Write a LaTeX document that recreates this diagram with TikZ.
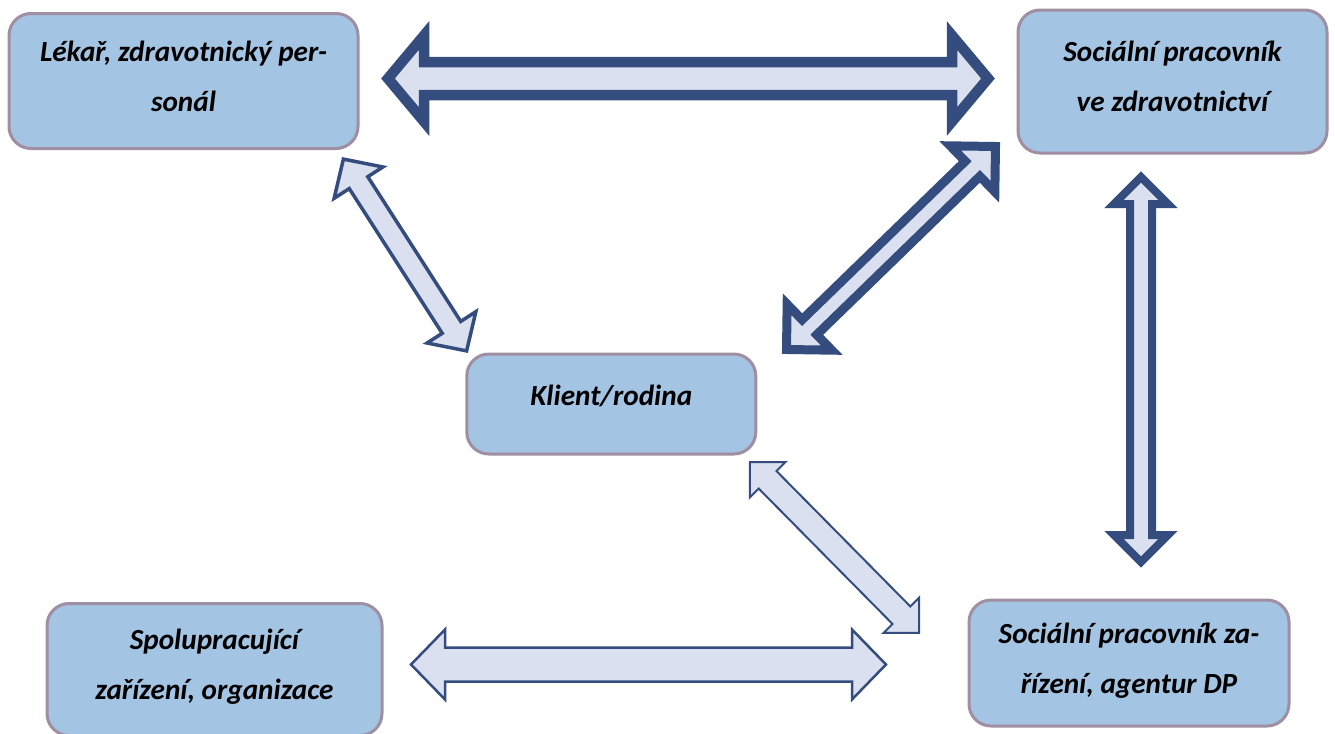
\documentclass[tikz,border=0pt]{standalone}
\usepackage{fontspec}
\setmainfont{Carlito}
\usetikzlibrary{calc}
\definecolor{boxfill}{RGB}{163,196,227}
\definecolor{boxline}{RGB}{160,142,162}
\definecolor{arrowline}{RGB}{52,77,126}
\definecolor{arrowfill}{RGB}{218,224,240}
\tikzset{box/.style={rectangle, rounded corners=11pt, draw=boxline, line width=1.5pt, fill=boxfill, align=center, text=black, inner sep=0pt, text depth=5pt, font=\bfseries\itshape\fontsize{14.6}{25}\selectfont}, link/.style={draw=arrowline, fill=arrowfill, line join=miter, line width=#1}}
% double block arrow: style, from, to, head length, head half width, shaft half width
\newcommand{\blockarrow}[6]{%
  \path[#1] (#2) -- ($(#2)!#4!(#3)!#5!90:(#3)$) -- ($(#2)!#4!(#3)!#6!90:(#3)$)
    -- ($(#3)!#4!(#2)!#6!-90:(#2)$) -- ($(#3)!#4!(#2)!#5!-90:(#2)$) -- (#3)
    -- ($(#3)!#4!(#2)!#5!90:(#2)$) -- ($(#3)!#4!(#2)!#6!90:(#2)$)
    -- ($(#2)!#4!(#3)!#6!-90:(#3)$) -- ($(#2)!#4!(#3)!#5!-90:(#3)$) -- cycle;}

\begin{document}
\begin{tikzpicture}[x=0.5pt, y=-0.5pt]
    \useasboundingbox (0,0) rectangle (1335,734);
    \clip (0,0) rectangle (1335,734);
    \node[box, minimum width=174.5pt, minimum height=67.5pt] (lekar) at (183.5,81) {Lékař, zdravotnický per-\\sonál};
    \node[box, minimum width=154.5pt, minimum height=71.5pt] (szdrav) at (1172.5,81.5) {Sociální pracovník\\ve zdravotnictví};
    \node[box, minimum width=144.5pt, minimum height=50pt, text depth=9pt] (klient) at (611.3,404) {Klient/rodina};
    \node[box, minimum width=167.5pt, minimum height=66pt] (spolu) at (214.5,669.5) {Spolupracující\\zařízení, organizace};
    \node[box, minimum width=160pt, minimum height=63pt] (agent) at (1129,663) {Sociální pracovník za-\\řízení, agentur DP};
    % ends of the arrows
    \coordinate (lekar-r) at (388,78.5);
    \coordinate (szdrav-l) at (988,78.5);
    \coordinate (szdrav-bl) at (995.5,146.5);
    \coordinate (klient-tr) at (786.5,349.5);
    \coordinate (lekar-br) at (343.4,159.1);
    \coordinate (klient-tl) at (466.6,350.9);
    \coordinate (szdrav-b) at (1141,177);
    \coordinate (agent-t) at (1141,562);
    \coordinate (klient-br) at (750,462);
    \coordinate (agent-tl) at (919,633);
    \coordinate (spolu-r) at (411,664.5);
    \coordinate (agent-l) at (886,664.5);
    \blockarrow{link=5.25pt}{lekar-r}{szdrav-l}{18pt}{21.5pt}{8.25pt}
    \blockarrow{link=4.5pt}{szdrav-bl}{klient-tr}{16pt}{16pt}{5.25pt}
    \blockarrow{link=1.75pt}{lekar-br}{klient-tl}{14pt}{14.5pt}{5.5pt}
    \blockarrow{link=4pt}{szdrav-b}{agent-t}{13.5pt}{13.5pt}{5.5pt}
    \blockarrow{link=1pt}{klient-br}{agent-tl}{12.5pt}{12.5pt}{6.25pt}
    \blockarrow{link=1.25pt}{spolu-r}{agent-l}{17pt}{17.5pt}{8.5pt}
\end{tikzpicture}
\end{document}
